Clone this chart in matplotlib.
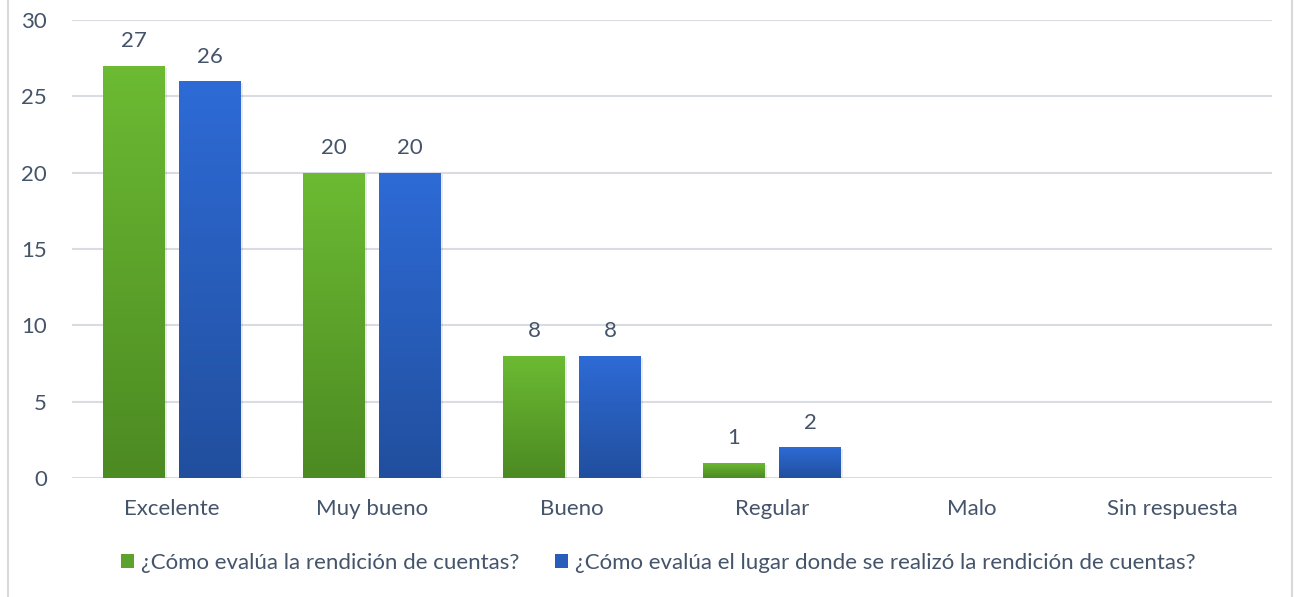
import numpy as np
import matplotlib
matplotlib.use("Agg")
import matplotlib.pyplot as plt
from matplotlib.colors import LinearSegmentedColormap
from matplotlib.patches import Rectangle

categories = ["Excelente", "Muy bueno", "Bueno", "Regular", "Malo", "Sin respuesta"]
serie1 = [27, 20, 8, 1, 0, 0]
serie2 = [26, 20, 8, 2, 0, 0]
labels1 = ["27", "20", "8", "1", "", ""]
labels2 = ["26", "20", "8", "2", "", ""]
legend_names = ["¿Cómo evalúa la rendición de cuentas?",
                "¿Cómo evalúa el lugar donde se realizó la rendición de cuentas?"]
yticks = [0, 5, 10, 15, 20, 25, 30]

plt.rcParams['font.family'] = ['Lato', 'DejaVu Sans']
text_color = "#44546A"
fs = 16

fig = plt.figure(figsize=(13.01, 5.97), dpi=100)
ax = fig.add_axes([72/1301, 1-478/597, 1200/1301, 458/597])

green_cmap = LinearSegmentedColormap.from_list("g", ["#4C8A22", "#6CBB33"])
blue_cmap = LinearSegmentedColormap.from_list("b", ["#214F9E", "#2E6BD6"])

x = np.arange(len(categories))
w = 0.31
off = (0.31 + 0.07) / 2

ax.set_xlim(-0.5, len(categories) - 0.5)
ax.set_ylim(0, 30)

def grad_bars(xs, vals, cmap):
    bars = ax.bar(xs, vals, width=w, color="none", zorder=3)
    grad = np.linspace(0, 1, 256).reshape(-1, 1)
    for b, v in zip(bars, vals):
        if v <= 0:
            continue
        x0, y0 = b.get_x(), b.get_y()
        bw, bh = b.get_width(), b.get_height()
        sh = Rectangle((x0 + 0.004, y0 - 0.12), bw + 0.006, bh, facecolor="#000000",
                       alpha=0.08, edgecolor="none", zorder=2)
        ax.add_patch(sh)
        im = ax.imshow(grad, extent=[x0, x0 + bw, y0, y0 + bh], origin="lower",
                       cmap=cmap, aspect="auto", zorder=3)
        im.set_clip_path(b)
    return bars

b1 = grad_bars(x - off, serie1, green_cmap)
b2 = grad_bars(x + off, serie2, blue_cmap)
ax.set_xlim(-0.5, len(categories) - 0.5)
ax.set_ylim(0, 30)

for xi, v, l in zip(x - off, serie1, labels1):
    if l:
        ax.text(xi, v + 0.95, l, ha="center", va="bottom", fontsize=fs, color=text_color)
for xi, v, l in zip(x + off, serie2, labels2):
    if l:
        ax.text(xi, v + 0.95, l, ha="center", va="bottom", fontsize=fs, color=text_color)

ax.set_yticks(yticks)
ax.set_yticklabels([str(t) for t in yticks])
ax.set_xticks(x)
ax.set_xticklabels(categories)
ax.tick_params(axis="both", length=0, labelsize=fs, colors=text_color)
ax.tick_params(axis="y", pad=18)
ax.tick_params(axis="x", pad=15)
for s in ax.spines.values():
    s.set_visible(False)
ax.yaxis.grid(True, color="#D9DDE3", linewidth=1.5, zorder=0)
ax.set_axisbelow(True)

handles = [Rectangle((0, 0), 1, 1, facecolor="#5DA22C"),
           Rectangle((0, 0), 1, 1, facecolor="#285DBB")]
fig.legend(handles, legend_names, loc="center", bbox_to_anchor=(658/1301, 1-563/597),
           ncol=2, frameon=False, fontsize=fs, labelcolor=text_color,
           handlelength=0.6, handleheight=0.6, handletextpad=0.3, columnspacing=1.6)

fig.add_artist(plt.Line2D([8/1301, 8/1301], [0, 1], color="#D9D9D9", linewidth=1.5))
fig.add_artist(plt.Line2D([1292/1301, 1292/1301], [0, 1], color="#D9D9D9", linewidth=1.5))

fig.savefig("out.png", dpi=100)
